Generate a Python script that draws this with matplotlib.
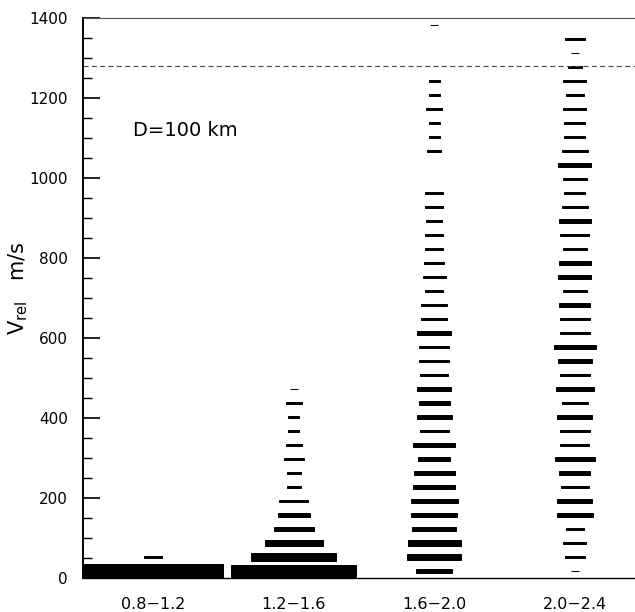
import numpy as np
import matplotlib
matplotlib.use("Agg")
import matplotlib.pyplot as plt

# size bins (km) along x, relative velocity bins of 35 m/s along y
size_bins = ["0.8\u22121.2", "1.2\u22121.6", "1.6\u22122.0", "2.0\u22122.4"]
x_edges = [0.8, 1.2, 1.6, 2.0, 2.4]
v_step = 35.0
n_vbins = 40

# counts per velocity bin, from 0 m/s upwards
counts_08_12 = [310, 5]
counts_12_16 = [244, 113, 53, 25, 16, 13, 3, 3, 6, 4, 2, 2, 4, 1]
counts_16_20 = [20, 46, 44, 30, 33, 35, 28, 26, 16, 28, 13, 19, 15, 18, 12,
                14, 14, 18, 11, 11, 5, 8, 6, 5, 5, 4, 5, 5, 0, 0, 3, 2, 2, 4,
                2, 2, 0, 0, 0, 1]
counts_20_24 = [1, 6, 8, 5, 20, 19, 12, 15, 25, 13, 14, 19, 11, 23, 14, 18,
                28, 14, 14, 15, 9, 17, 16, 9, 13, 16, 11, 7, 9, 17, 11, 7, 7,
                8, 5, 8, 3, 1, 6, 0]

escape_velocity = 1280
label_text = "D=100 km"

columns = [counts_08_12, counts_12_16, counts_16_20, counts_20_24]
nmax = max(max(c) for c in columns)

plt.rcParams["font.family"] = ["DejaVu Sans"]

fig = plt.figure(figsize=(6.35, 6.12), dpi=100)
ax = fig.add_axes([83 / 635, 34 / 612, 562 / 635, 560 / 612])

# box plot: box area proportional to the cell content
for i, counts in enumerate(columns):
    cell_w = x_edges[i + 1] - x_edges[i]
    xc = 0.5 * (x_edges[i] + x_edges[i + 1])
    c = np.zeros(n_vbins)
    c[:len(counts)] = counts
    vc = (np.arange(n_vbins) + 0.5) * v_step
    keep = c > 0
    f = np.sqrt(c[keep] / nmax)
    ax.bar(np.full(keep.sum(), xc), v_step * f, width=cell_w * f,
           bottom=vc[keep] - 0.5 * v_step * f, color="black",
           edgecolor="black", linewidth=0.7)

ax.axhline(escape_velocity, color="#444444", lw=0.8, dashes=(4.5, 3))

ax.text(0.943, 1120, label_text, fontsize=14, va="center", ha="left")

ax.set_xlim(x_edges[0], x_edges[-1])
ax.set_ylim(0, 1400)
centers = [0.5 * (a + b) for a, b in zip(x_edges[:-1], x_edges[1:])]
ax.set_xticks(centers)
ax.set_xticklabels(size_bins, fontsize=11.5)
ax.tick_params(axis="x", length=0, pad=14)

ax.set_yticks(np.arange(0, 1401, 200))
ax.set_yticks(np.arange(0, 1401, 50), minor=True)
ax.tick_params(axis="y", which="major", direction="in", length=12.2,
               width=1.2, labelsize=11, pad=11)
ax.tick_params(axis="y", which="minor", direction="in", length=6.5,
               width=1.0)

ax.set_ylabel(r"$\mathregular{V_{rel}}$   m/s", fontsize=15)
ax.yaxis.set_label_coords(-0.094, 0.518)

ax.spines["right"].set_visible(False)
ax.spines["left"].set_linewidth(1.4)
ax.spines["bottom"].set_linewidth(1.0)
ax.spines["top"].set_linewidth(0.8)
ax.spines["top"].set_color("#555555")

fig.savefig("out.png", dpi=100)
